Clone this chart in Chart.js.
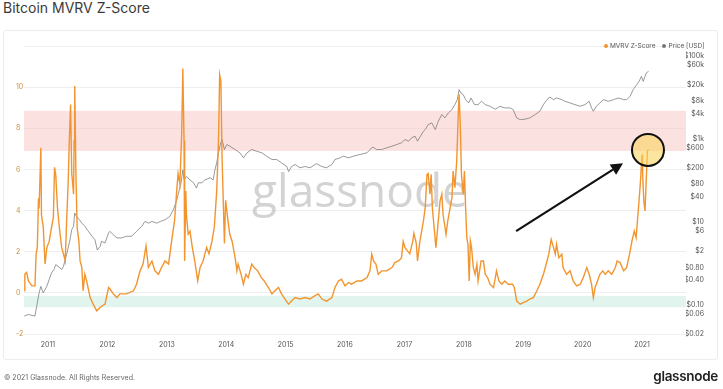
<!DOCTYPE html>
<html>
<head>
<meta charset="utf-8">
<script src="https://cdn.jsdelivr.net/npm/chart.js@4.4.1/dist/chart.umd.min.js"></script>
<style>
  body { margin: 0; width: 723px; height: 389px; background: #fff; overflow: hidden; position: relative; font-family: Inter, "Open Sans", sans-serif; }
  #title { position: absolute; left: 3px; top: -1px; font-size: 14px; color: #3a3a3a; }
  #card { position: absolute; left: 3px; top: 30px; width: 713px; height: 328px; border: 1px solid #ececec; border-radius: 3px; }
  #chart { position: absolute; left: 0; top: 0; }
  #legend { position: absolute; left: 604px; top: 42px; font-size: 6.5px; color: #555; white-space: nowrap; }
  #legend .dot { display: inline-block; width: 4px; height: 4px; border-radius: 50%; margin-right: 2px; vertical-align: 0px; }
  #legend .item { margin-right: 7px; }
  #copy { position: absolute; left: 4px; top: 373px; font-size: 7px; color: #666; }
  #logo { position: absolute; right: 5px; top: 368px; font-size: 13.5px; font-weight: 600; color: #222; letter-spacing: -0.3px; }
</style>
</head>
<body>
<div id="title">Bitcoin MVRV Z-Score</div>
<div id="card"></div>
<canvas id="chart" width="723" height="389"></canvas>
<div id="legend"><span class="item"><span class="dot" style="background:#f2952f"></span>MVRV Z-Score</span><span><span class="dot" style="background:#777"></span>Price [USD]</span></div>
<div id="copy">© 2021 Glassnode. All Rights Reserved.</div>
<div id="logo">glassnode</div>
<script>
// MVRV Z-Score, decimal year -> z
const zDates = [2010.60,2010.61,2010.64,2010.67,2010.73,2010.78,2010.80,2010.82,2010.84,2010.85,
  2010.88,2010.89,2010.92,2010.95,2010.98,2011.02,2011.06,2011.09,2011.11,2011.13,
  2011.16,2011.19,2011.23,2011.26,2011.29,2011.31,2011.34,2011.36,2011.38,2011.40,
  2011.43,2011.44,2011.45,2011.47,2011.49,2011.52,2011.54,2011.57,2011.59,2011.62,
  2011.65,2011.71,2011.76,2011.82,2011.88,2011.96,2012.02,2012.04,2012.10,2012.16,
  2012.21,2012.32,2012.44,2012.49,2012.55,2012.60,2012.65,2012.69,2012.75,2012.80,
  2012.86,2012.91,2012.97,2013.03,2013.08,2013.13,2013.17,2013.19,2013.22,2013.25,
  2013.27,2013.29,2013.30,2013.32,2013.33,2013.36,2013.39,2013.43,2013.47,2013.52,
  2013.56,2013.61,2013.67,2013.71,2013.76,2013.80,2013.84,2013.87,2013.89,2013.91,
  2013.93,2013.95,2013.97,2013.99,2014.03,2014.06,2014.10,2014.15,2014.18,2014.20,
  2014.25,2014.29,2014.33,2014.37,2014.43,2014.47,2014.53,2014.59,2014.64,2014.71,
  2014.77,2014.82,2014.88,2014.93,2014.99,2015.05,2015.10,2015.16,2015.24,2015.33,
  2015.41,2015.49,2015.55,2015.61,2015.69,2015.78,2015.83,2015.89,2015.94,2016.00,
  2016.06,2016.11,2016.20,2016.28,2016.37,2016.42,2016.45,2016.48,2016.52,2016.56,
  2016.62,2016.70,2016.79,2016.84,2016.90,2016.95,2016.98,2017.01,2017.05,2017.09,
  2017.14,2017.16,2017.20,2017.22,2017.26,2017.32,2017.35,2017.38,2017.40,2017.43,
  2017.45,2017.47,2017.50,2017.53,2017.56,2017.60,2017.63,2017.65,2017.70,2017.73,
  2017.77,2017.80,2017.82,2017.85,2017.88,2017.91,2017.92,2017.94,2017.96,2017.99,
  2018.01,2018.03,2018.05,2018.07,2018.09,2018.11,2018.13,2018.16,2018.19,2018.22,
  2018.24,2018.29,2018.33,2018.36,2018.40,2018.44,2018.50,2018.55,2018.59,2018.64,
  2018.69,2018.75,2018.82,2018.85,2018.89,2018.95,2019.00,2019.06,2019.11,2019.17,
  2019.23,2019.28,2019.34,2019.40,2019.43,2019.47,2019.51,2019.54,2019.56,2019.60,
  2019.65,2019.67,2019.73,2019.79,2019.84,2019.90,2019.96,2020.01,2020.07,2020.11,
  2020.15,2020.18,2020.21,2020.25,2020.29,2020.34,2020.38,2020.43,2020.49,2020.55,
  2020.58,2020.63,2020.69,2020.74,2020.79,2020.83,2020.87,2020.90,2020.94,2020.97,
  2021.00,2021.01,2021.03,2021.05,2021.07,2021.09,2021.11];
const zValues = [0.1,0.92,1.0,0.58,0.34,0.34,1.9,2.2,4.6,4.1,
  7.05,3.8,3.2,1.4,2.2,2.5,3.2,3.65,6.1,5.76,
  4.1,3.2,2.2,1.9,1.55,3.2,5.4,7.5,9.15,5.8,
  4.8,7.4,10.05,5.8,3.2,2.5,1.55,1.23,0.1,0.9,
  0.58,-0.23,-0.55,-0.87,-0.7,-0.55,0.26,0.2,-0.05,-0.23,
  -0.05,-0.05,0.1,0.42,1.07,1.4,2.28,1.23,1.55,1.07,
  0.9,1.23,1.55,1.4,2.5,3.5,5.1,5.8,5.3,7.7,
  10.9,7.4,1.55,4.95,3.8,2.85,3.0,2.2,1.55,0.58,
  1.23,1.55,2.2,1.9,2.5,3.2,4.95,7.4,10.6,10.3,
  6.6,4.5,2.4,4.5,3.5,2.85,2.5,1.7,1.07,1.4,
  0.9,0.42,0.9,0.74,1.4,1.23,1.07,0.74,0.58,0.26,
  -0.05,0.1,0.26,-0.05,-0.3,-0.55,-0.4,-0.23,-0.3,-0.23,
  -0.3,-0.15,-0.05,-0.3,-0.4,-0.23,0.26,0.58,0.66,0.34,
  0.5,0.42,0.58,0.58,0.74,1.07,1.88,1.55,1.4,0.9,
  1.07,1.07,1.23,1.47,1.55,1.7,2.5,2.2,2.04,1.9,
  2.5,2.9,2.4,1.55,2.5,3.5,4.14,5.76,5.8,4.8,
  5.76,4.14,3.17,2.2,3.17,4.47,4.8,3.82,2.85,3.5,
  4.14,4.63,5.92,5.11,6.4,9.0,9.65,8.2,5.76,4.8,
  5.92,4.14,2.68,2.36,0.58,2.52,2.2,1.23,0.9,1.39,
  0.58,1.55,1.55,0.9,0.74,0.42,0.26,1.07,0.58,0.42,
  0.58,0.42,0.42,0.26,-0.4,-0.55,-0.47,-0.4,-0.3,-0.23,
  0.1,0.42,0.9,1.55,1.88,2.6,2.2,1.88,2.36,1.71,
  1.88,1.23,0.9,1.07,0.58,0.34,0.42,0.74,1.23,0.9,
  0.42,-0.23,0.26,0.58,0.9,1.07,0.9,1.07,0.9,1.23,
  1.55,1.47,1.07,1.23,1.88,2.52,3.0,2.68,4.14,5.27,
  6.73,5.76,4.47,3.98,5.44,6.9,6.97];

// BTC price (USD), decimal year -> price
const priceDates = [2010.60,2010.67,2010.78,2010.81,2010.85,2010.88,2010.92,2010.98,2011.02,2011.06,
  2011.10,2011.13,2011.17,2011.23,2011.26,2011.29,2011.32,2011.37,2011.40,2011.43,
  2011.45,2011.48,2011.53,2011.57,2011.62,2011.68,2011.74,2011.79,2011.83,2011.88,
  2011.90,2011.96,2012.02,2012.04,2012.10,2012.16,2012.24,2012.32,2012.41,2012.49,
  2012.58,2012.63,2012.69,2012.75,2012.83,2012.89,2012.97,2013.05,2013.11,2013.17,
  2013.21,2013.24,2013.27,2013.29,2013.33,2013.39,2013.45,2013.50,2013.53,2013.59,
  2013.64,2013.73,2013.78,2013.81,2013.84,2013.87,2013.90,2013.93,2013.97,2014.01,
  2014.06,2014.15,2014.23,2014.29,2014.35,2014.43,2014.51,2014.60,2014.68,2014.77,
  2014.85,2014.93,2015.02,2015.05,2015.10,2015.16,2015.24,2015.33,2015.41,2015.52,
  2015.61,2015.69,2015.78,2015.83,2015.92,2015.97,2016.06,2016.14,2016.25,2016.37,
  2016.42,2016.47,2016.53,2016.62,2016.70,2016.79,2016.87,2016.95,2017.01,2017.07,
  2017.12,2017.18,2017.22,2017.27,2017.32,2017.35,2017.40,2017.46,2017.52,2017.57,
  2017.63,2017.68,2017.74,2017.80,2017.85,2017.89,2017.92,2017.95,2017.99,2018.03,
  2018.08,2018.12,2018.18,2018.24,2018.30,2018.36,2018.44,2018.53,2018.61,2018.69,
  2018.78,2018.83,2018.89,2018.95,2019.03,2019.11,2019.20,2019.28,2019.34,2019.40,
  2019.45,2019.51,2019.56,2019.65,2019.70,2019.79,2019.87,2019.96,2020.04,2020.11,
  2020.15,2020.18,2020.23,2020.29,2020.35,2020.43,2020.52,2020.60,2020.69,2020.74,
  2020.80,2020.85,2020.91,2020.95,2020.99,2021.02,2021.05,2021.07,2021.11];
const priceValues = [0.054,0.059,0.054,0.093,0.195,0.28,0.195,0.28,0.41,0.59,
  0.71,0.93,0.85,0.71,0.85,1.23,1.78,3.7,6.5,7.8,
  16.2,13.5,11.2,9.3,7.8,5.9,4.5,3.7,2.1,2.6,
  3.4,3.1,5.4,5.9,4.9,4.1,4.1,4.5,4.5,5.9,
  7.8,10.2,9.3,10.2,9.3,10.2,11.2,13.5,19.5,34,
  59,87,178,102,123,102,87,65,87,87,
  102,115,102,178,263,457,724,955,550,724,
  660,550,457,347,457,550,500,457,380,316,
  316,263,214,162,214,240,200,214,200,251,
  214,200,240,316,347,380,347,380,417,457,
  550,631,550,550,603,660,724,794,955,871,
  1047,1148,871,1148,1514,1660,2188,2400,1660,2630,
  3800,3160,4170,5010,6610,8710,15100,12600,11500,8710,
  7240,9550,6610,6610,7940,6610,6030,5130,6030,5500,
  5500,5010,3160,2880,2950,3160,3800,4570,6610,8710,
  10000,8710,9550,8710,7940,7240,6610,6030,6610,7940,
  5500,4570,6030,7240,8710,7940,8710,9550,8710,8710,
  10500,15100,19950,24000,31600,24000,31600,38000,41700];

const yearTicks = [2011,2012,2013,2014,2015,2016,2017,2018,2019,2020,2021];
const priceTicks = [100000,60000,20000,8000,4000,1000,600,200,80,40,10,6,2,0.8,0.4,0.1,0.06,0.02];
const priceTickLabels = ['$100k','$60k','$20k','$8k','$4k','$1k','$600','$200','$80','$40','$10','$6','$2','$0.80','$0.40','$0.10','$0.06','$0.02'];

// zones on the z-score axis
const redZone = [6.9, 8.85];
const greenZone = [-0.7, -0.15];

// annotation (data coords)
const arrowFrom = [2018.88, 3.0];
const arrowTo = [2020.68, 6.3];
const circleAt = [2021.10, 6.95];

Chart.defaults.font.family = 'Inter, "Open Sans", sans-serif';

const overlay = {
  id: 'overlay',
  beforeDatasetsDraw(chart) {
    const { ctx, chartArea: a, scales } = chart;
    const y = scales.y;
    ctx.save();
    ctx.fillStyle = 'rgba(250, 200, 200, 0.55)';
    let t = y.getPixelForValue(redZone[1]), b = y.getPixelForValue(redZone[0]);
    ctx.fillRect(a.left, t, a.right - a.left, b - t);
    ctx.fillStyle = 'rgba(205, 238, 226, 0.6)';
    t = y.getPixelForValue(greenZone[1]); b = y.getPixelForValue(greenZone[0]);
    ctx.fillRect(a.left, t, a.right - a.left, b - t);
    // watermark
    ctx.font = '500 46px "Open Sans"';
    ctx.fillStyle = 'rgba(200, 200, 200, 0.8)';
    ctx.textAlign = 'center';
    ctx.textBaseline = 'alphabetic';
    ctx.fillText('glassnode', (a.left + a.right) / 2 + 5, 207);
    ctx.restore();
  },
  afterDatasetsDraw(chart) {
    const { ctx, scales: { x, y } } = chart;
    ctx.save();
    // circle
    const cx = x.getPixelForValue(circleAt[0]), cy = y.getPixelForValue(circleAt[1]);
    ctx.beginPath();
    ctx.arc(cx, cy, 16, 0, Math.PI * 2);
    ctx.fillStyle = 'rgba(248, 212, 95, 0.6)';
    ctx.fill();
    ctx.lineWidth = 2;
    ctx.strokeStyle = '#111';
    ctx.stroke();
    // arrow
    const x0 = x.getPixelForValue(arrowFrom[0]), y0 = y.getPixelForValue(arrowFrom[1]);
    const x1 = x.getPixelForValue(arrowTo[0]), y1 = y.getPixelForValue(arrowTo[1]);
    const ang = Math.atan2(y1 - y0, x1 - x0);
    const head = 12, hw = 6;
    const bx = x1 - head * Math.cos(ang), by = y1 - head * Math.sin(ang);
    ctx.beginPath();
    ctx.moveTo(x0, y0);
    ctx.lineTo(bx, by);
    ctx.lineWidth = 2.2;
    ctx.stroke();
    ctx.beginPath();
    ctx.moveTo(x1, y1);
    ctx.lineTo(bx + hw * Math.sin(ang), by - hw * Math.cos(ang));
    ctx.lineTo(bx - hw * Math.sin(ang), by + hw * Math.cos(ang));
    ctx.closePath();
    ctx.fillStyle = '#111';
    ctx.fill();
    ctx.restore();
  }
};

new Chart(document.getElementById('chart'), {
  type: 'line',
  data: {
    datasets: [{
      label: 'MVRV Z-Score',
      data: zDates.map((d, i) => ({ x: d, y: zValues[i] })),
      borderColor: '#f2952f',
      borderWidth: 1.4,
      pointRadius: 0,
      yAxisID: 'y'
    }, {
      label: 'Price [USD]',
      data: priceDates.map((d, i) => ({ x: d, y: priceValues[i] })),
      borderColor: '#6f6f6f',
      borderWidth: 0.7,
      pointRadius: 0,
      yAxisID: 'y2'
    }]
  },
  options: {
    responsive: false,
    animation: false,
    layout: { padding: { left: 16, right: 19, top: 46, bottom: 35 } },
    plugins: { legend: { display: false }, tooltip: { enabled: false } },
    scales: {
      x: {
        type: 'linear',
        min: 2010.596,
        max: 2021.74,
        afterBuildTicks: s => { s.ticks = yearTicks.map(v => ({ value: v })); },
        afterFit: s => { s.height = 20; },
        grid: { display: false, drawTicks: false },
        border: { display: false },
        ticks: { autoSkip: false, maxRotation: 0, padding: 7, color: '#555', font: { size: 7 }, callback: v => String(v) }
      },
      y: {
        position: 'left',
        min: -2,
        max: 12,
        afterFit: s => { s.width = 8; },
        grid: { color: '#eeeeee', drawTicks: false },
        border: { display: false },
        ticks: { stepSize: 2, crossAlign: 'far', padding: 0, color: '#c8913e', font: { size: 7 }, callback: v => v === 12 ? '' : v }
      },
      y2: {
        type: 'logarithmic',
        position: 'right',
        min: 0.02,
        max: 170000,
        afterBuildTicks: s => { s.ticks = priceTicks.map(v => ({ value: v })); },
        afterFit: s => { s.width = 18; },
        grid: { display: false, drawTicks: false },
        border: { display: false },
        ticks: { autoSkip: false, crossAlign: 'far', padding: 0, color: '#555', font: { size: 7 }, callback: v => priceTickLabels[priceTicks.indexOf(v)] }
      }
    }
  },
  plugins: [overlay]
});
</script>
</body>
</html>
